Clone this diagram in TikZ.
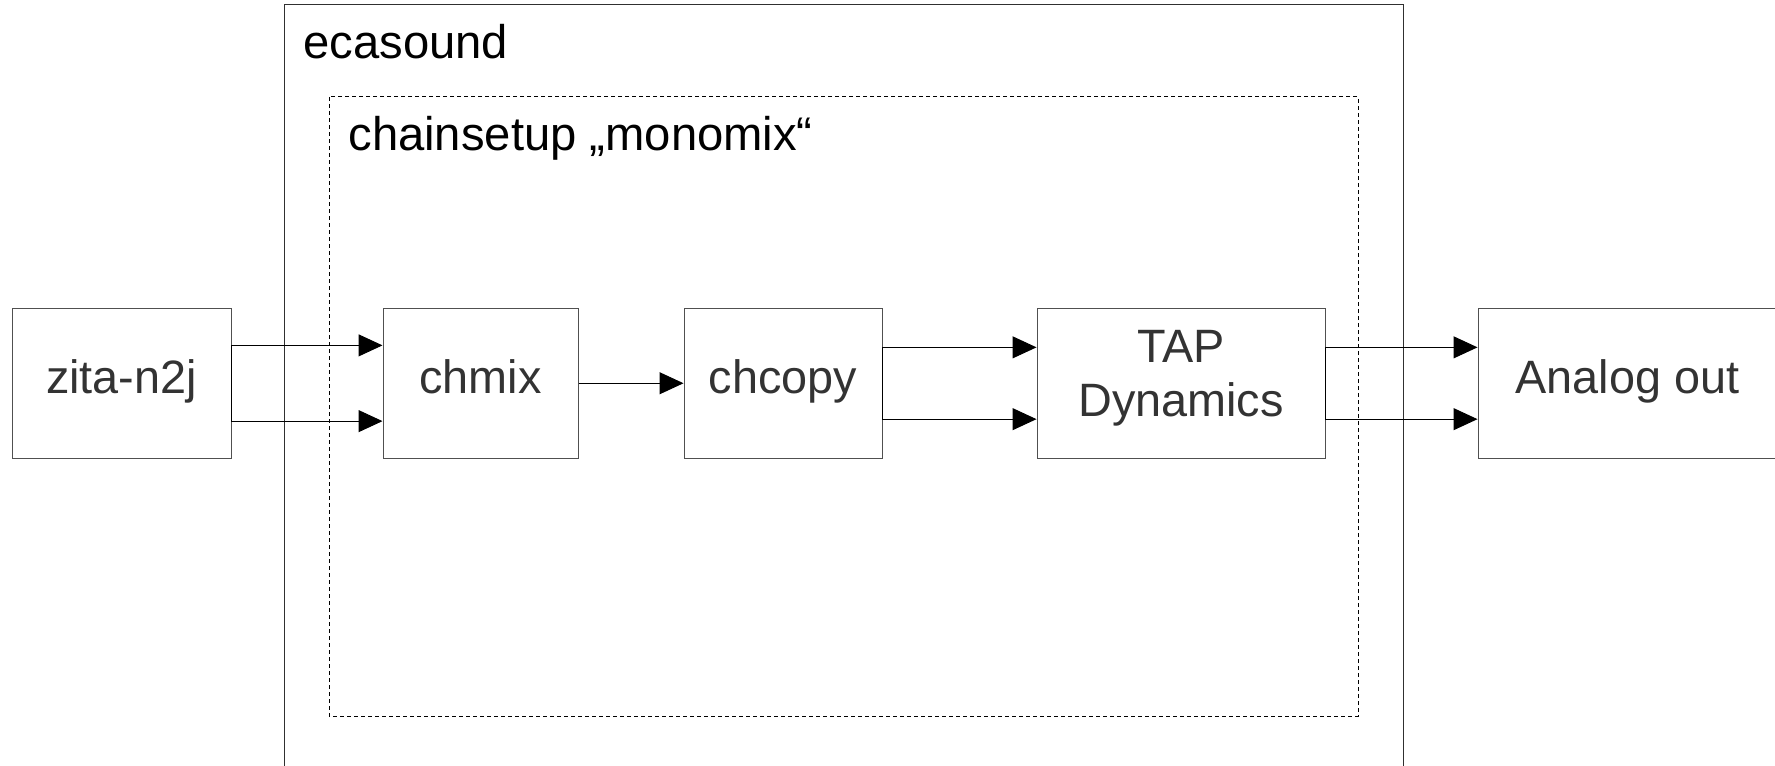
\documentclass[tikz,border=0pt]{standalone}
\usepackage{fontspec}
\setmainfont{Liberation Sans}
\usetikzlibrary{arrows.meta,calc}
\definecolor{boxtext}{HTML}{333333}
\definecolor{boxline}{HTML}{505050}
\definecolor{frameline}{HTML}{303030}
\begin{document}
\begin{tikzpicture}[x=0.5pt,y=-0.5pt,
  blk/.style={draw=boxline, line width=0.5pt, fill=white, inner sep=0pt,
    minimum height=75.25pt, text=boxtext,
    font=\fontsize{23.4pt}{26.85pt}\selectfont, text height=17pt, text depth=6.5pt},
  conn/.style={draw=black, line width=0.5pt, -{Triangle[length=12pt,width=11pt]}},
  titletext/.style={anchor=base west, inner sep=0pt,
    font=\fontsize{23.6pt}{27pt}\selectfont, text=black},
  frame/.style={draw=frameline, line width=0.5pt},
  dashframe/.style={draw=black, line width=0.5pt, dash pattern=on 2pt off 1.5pt}]
\useasboundingbox (0,0) rectangle (1775,765);
\fill[white] (0,0) rectangle (1775,765);
% ecasound frame (open at the bottom edge of the picture)
\draw[frame] (284,5) rectangle (1403,800);
\node[titletext] (eca) at (303,59) {ecasound};
% chainsetup frame
\draw[dashframe] (329,97) rectangle (1358,716);
\node[titletext] (cs) at (348,150) {chainsetup „monomix“};
% blocks
\node[blk, minimum width=109.5pt] (zita) at (121.5,383.25) {zita-n2j};
\node[blk, minimum width=97.5pt] (chmix) at (480.5,383.25) {chmix};
\node[blk, minimum width=99pt] (chcopy) at (783,383.25) {chcopy};
\node[blk, minimum width=144pt, align=center, text height=43.85pt, text depth=10.65pt] (tap) at (1181,383.25) {TAP\\Dynamics};
\node[blk, minimum width=149.5pt] (out) at (1627.5,383.25) {Analog out};
% connectors
\draw[conn] (zita.east) |- ($(chmix.north west)!0.25!(chmix.south west)$);
\draw[conn] (zita.east) |- ($(chmix.north west)!0.75!(chmix.south west)$);
\draw[conn] (chmix.east) -- (chcopy.west);
\draw[conn] (chcopy.east) |- ($(tap.north west)!0.263!(tap.south west)$);
\draw[conn] (chcopy.east) |- ($(tap.north west)!0.737!(tap.south west)$);
\draw[conn] (tap.east) |- ($(out.north west)!0.263!(out.south west)$);
\draw[conn] (tap.east) |- ($(out.north west)!0.737!(out.south west)$);
\end{tikzpicture}
\end{document}
